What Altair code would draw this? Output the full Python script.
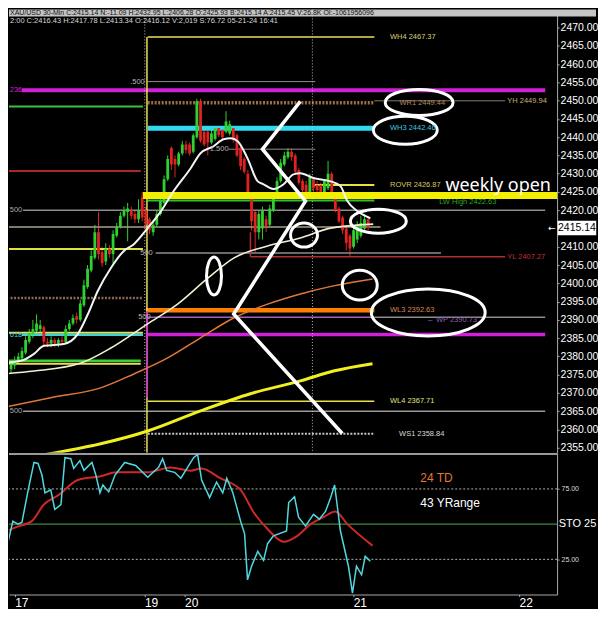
import altair as alt
import pandas as pd

# ---------------------------------------------------------------
# Values (XAU/USD, 30-min bars).
# Bar index 0 = first bar of 17 May; Sunday re-open is bar 34.
# ---------------------------------------------------------------
bar_index = list(range(-5, 96))
bar_open = [
    2378.8, 2381.5, 2376.5, 2377.5, 2378.5, 2379.5, 2381.0, 2384.0, 2386.0, 2387.0,
    2387.5, 2388.0, 2384.0, 2383.5, 2384.5, 2383.5, 2384.5, 2384.0, 2387.5, 2389.0,
    2391.0, 2390.0, 2394.0, 2399.0, 2403.5, 2407.0, 2414.0, 2408.5, 2406.0, 2409.5,
    2408.0, 2413.0, 2415.5, 2418.5, 2419.5, 2420.0, 2419.0, 2417.5, 2423.5, 2420.0,
    2417.5, 2414.0, 2416.0, 2419.0, 2422.0, 2428.5, 2437.0, 2434.0, 2432.5, 2435.5,
    2438.0, 2438.0, 2436.0, 2440.0, 2449.8, 2441.5, 2441.5, 2438.5, 2439.5, 2442.5,
    2442.0, 2441.5, 2441.0, 2442.5, 2440.5, 2437.0, 2434.0, 2430.0, 2423.5, 2419.5,
    2414.0, 2415.0, 2417.5, 2416.0, 2420.0, 2424.0, 2428.0, 2432.5, 2434.5, 2436.0,
    2435.0, 2431.0, 2428.0, 2427.0, 2425.0, 2428.5, 2427.0, 2427.0, 2425.0, 2426.0,
    2430.0, 2424.0, 2420.5, 2418.0, 2415.0, 2413.0, 2410.0, 2412.0, 2413.0, 2415.0,
    2417.5]
bar_high = [
    2382.5, 2382.0, 2379.0, 2380.0, 2381.0, 2382.5, 2385.5, 2387.5, 2390.0, 2391.5,
    2390.0, 2388.5, 2385.0, 2385.5, 2385.0, 2385.0, 2385.5, 2388.5, 2390.0, 2391.5,
    2392.0, 2395.5, 2401.0, 2405.0, 2409.0, 2416.0, 2419.5, 2410.0, 2411.0, 2410.5,
    2414.5, 2416.5, 2419.5, 2421.0, 2422.0, 2421.0, 2420.0, 2423.0, 2425.0, 2421.0,
    2418.0, 2417.0, 2420.0, 2423.0, 2429.5, 2435.0, 2437.5, 2435.0, 2436.0, 2439.0,
    2439.0, 2438.5, 2441.0, 2450.5, 2450.5, 2442.0, 2442.0, 2442.0, 2443.0, 2443.0,
    2442.5, 2447.1, 2444.5, 2443.0, 2441.0, 2437.5, 2434.5, 2431.0, 2424.0, 2420.0,
    2420.0, 2421.0, 2418.5, 2421.5, 2425.0, 2429.0, 2434.0, 2436.0, 2437.0, 2437.0,
    2435.5, 2431.5, 2428.5, 2428.0, 2430.0, 2429.0, 2428.0, 2427.5, 2428.5, 2433.5,
    2430.5, 2424.5, 2421.0, 2418.5, 2415.5, 2413.5, 2415.5, 2417.0, 2418.5, 2419.0,
    2418.5]
bar_low = [
    2377.5, 2375.5, 2375.5, 2376.5, 2378.0, 2379.0, 2380.5, 2383.5, 2385.0, 2386.0,
    2386.5, 2382.5, 2382.5, 2382.5, 2382.5, 2382.5, 2383.0, 2383.5, 2387.0, 2388.5,
    2389.0, 2389.5, 2393.5, 2398.5, 2403.0, 2406.5, 2406.5, 2404.5, 2405.0, 2407.0,
    2405.5, 2412.5, 2415.0, 2418.0, 2411.5, 2417.5, 2416.5, 2416.5, 2417.0, 2414.5,
    2413.5, 2413.0, 2415.5, 2418.5, 2421.5, 2428.0, 2431.0, 2429.0, 2432.0, 2435.0,
    2435.5, 2435.0, 2435.5, 2439.5, 2438.5, 2437.5, 2435.0, 2438.0, 2439.0, 2440.0,
    2439.5, 2441.0, 2440.5, 2438.5, 2434.5, 2431.0, 2430.0, 2424.5, 2414.5, 2408.5,
    2412.0, 2412.0, 2414.0, 2415.5, 2419.5, 2423.5, 2427.5, 2432.0, 2434.0, 2433.5,
    2430.0, 2427.0, 2425.0, 2424.0, 2424.5, 2425.0, 2424.5, 2424.0, 2424.5, 2425.5,
    2423.5, 2419.5, 2416.5, 2413.5, 2409.0, 2407.5, 2409.5, 2411.0, 2412.5, 2414.0,
    2414.5]
bar_close = [
    2381.5, 2376.5, 2378.0, 2379.0, 2380.0, 2381.5, 2384.5, 2386.5, 2387.5, 2389.0,
    2388.5, 2384.0, 2383.5, 2384.5, 2383.5, 2384.5, 2384.0, 2387.5, 2389.0, 2390.5,
    2390.0, 2394.5, 2399.5, 2404.0, 2407.5, 2414.0, 2408.0, 2405.5, 2409.5, 2408.0,
    2413.5, 2415.5, 2418.5, 2420.0, 2420.5, 2418.5, 2417.5, 2420.0, 2418.0, 2416.0,
    2414.5, 2416.0, 2419.0, 2422.5, 2428.5, 2434.0, 2432.5, 2432.5, 2435.5, 2438.0,
    2436.5, 2435.5, 2440.5, 2449.8, 2439.0, 2438.0, 2438.5, 2441.0, 2442.5, 2440.5,
    2440.0, 2444.3, 2443.5, 2439.5, 2435.0, 2432.0, 2430.5, 2425.0, 2417.0, 2414.0,
    2419.0, 2420.0, 2415.5, 2420.5, 2424.0, 2428.0, 2433.0, 2435.0, 2436.0, 2434.5,
    2430.5, 2427.5, 2425.5, 2424.5, 2429.0, 2426.0, 2425.5, 2424.5, 2428.0, 2430.0,
    2424.0, 2420.0, 2417.0, 2414.5, 2411.0, 2409.5, 2414.5, 2416.0, 2416.5, 2417.5,
    2415.14]
last_price = 2415.14

# moving averages, read at points along each curve
ma_fast_bar = [-5.75, -0.27, 3.3, 6.0, 11.5, 15.3, 18.1, 20.8, 24.4, 27.9, 30.7, 34.5,
               38.1, 41.6, 46.3, 49.0, 52.6, 55.3, 57.3, 59.2, 61.9, 64.7, 66.3, 69.0,
               71.8, 74.5, 76.4, 80.0, 84.7, 87.4, 89.3, 92.1, 95.6]
ma_fast_val = [2378.2, 2378.8, 2380.7, 2382.9, 2383.4, 2386.1, 2391.6, 2397.9, 2404.2,
               2408.8, 2410.7, 2415.1, 2419.7, 2425.2, 2431.5, 2435.6, 2437.5, 2439.4,
               2439.7, 2438.9, 2434.2, 2427.9, 2427.1, 2425.8, 2427.1, 2429.8, 2430.1,
               2428.8, 2427.9, 2426.6, 2422.5, 2419.7, 2417.8]
ma_mid_bar = [-5.75, 3.3, 16.2, 24.4, 34.5, 42.7, 51.0, 58.1, 67.4, 76.4, 84.7, 96.4]
ma_mid_val = [2375.2, 2376.0, 2378.2, 2382.3, 2388.9, 2394.3, 2401.4, 2406.9, 2410.2,
              2412.4, 2415.1, 2416.2]
ma_slow_bar = [-5.75, 7.9, 21.6, 30.7, 40.0, 49.0, 58.1, 67.4, 76.4, 85.5, 96.2]
ma_slow_val = [2365.9, 2368.7, 2371.4, 2375.2, 2379.6, 2385.1, 2390.5, 2394.3, 2397.1,
               2399.3, 2401.2]
ma_long_bar = [5.5, 21.6, 34.5, 49.0, 62.7, 76.4, 85.5, 96.2]
ma_long_val = [2353.0, 2356.1, 2359.6, 2365.1, 2369.8, 2373.3, 2376.0, 2378.0]

# stochastic (%K cyan, %D red)
sto_k_bar = [-5.75, -4.9, -4.1, -2.5, -1.1, 0, 1.6, 3.3, 4.4, 5.5, 6.3, 7.9, 9.0, 10.7,
             11.8, 13.4, 14.2, 15.9, 17.0, 19.2, 20.3, 21.4, 22.2, 23.8, 25.5, 28.2,
             31.2, 34.5, 37.5, 38.6, 39.7, 41.9, 43.6, 47.1, 48.2, 49.3, 51.5, 53.4,
             55.1, 56.2, 57.8, 60.0, 61.1, 61.9, 63.0, 64.7, 66.3, 67.4, 69.0, 72.6,
             73.2, 74.8, 75.9, 77.8, 80.0, 81.6, 83.3, 84.7, 85.8, 87.4, 89.6, 90.7,
             91.8, 93.2, 94.2, 95.6]
sto_k_val = [63.9, 77.8, 34.0, 52.1, 50.0, 51.4, 72.9, 93.8, 93.1, 84.7, 72.2, 74.3,
             60.4, 63.9, 97.2, 96.5, 89.6, 95.1, 88.2, 93.8, 84.7, 72.2, 77.8, 72.9,
             84.7, 93.8, 91.7, 83.3, 90.3, 96.5, 88.2, 86.8, 82.6, 97.2, 99.5, 81.3,
             68.8, 79.9, 72.2, 82.6, 72.9, 52.1, 43.1, 10.4, 20.1, 30.6, 24.3, 36.1,
             41.7, 45.1, 65.3, 69.4, 54.9, 48.6, 56.9, 53.5, 59.0, 68.8, 77.8, 45.1,
             20.1, 1.0, 20.1, 14.0, 27.1, 23.6]
sto_d_bar = [-5.75, -1.6, 2.7, 6.0, 10.1, 15.3, 21.6, 26.0, 34.5, 40.8, 46.3, 49.3,
             54.4, 60.0, 63.6, 67.4, 71.8, 75.6, 79.2, 82.7, 86.0, 89.3, 96.2]
sto_d_val = [43.1, 47.9, 52.1, 63.9, 70.8, 81.3, 84.0, 86.8, 86.8, 90.3, 88.0, 89.6,
             82.6, 74.3, 58.3, 46.5, 37.5, 41.7, 50.0, 54.9, 59.0, 50.0, 34.7]

# horizontal levels: key, price, first bar, last bar
level_keys = ["gL1", "rL1", "k2415", "y2409", "br2396", "y618", "c618", "g2379", "y2378",
              "m236", "g2420", "g2365", "fib500a", "fib1500", "fib500b", "YH", "YL",
              "WPg", "WP", "WH4", "WR1", "WH3", "ROVR", "LWH", "WL3", "m2386", "WL4",
              "WS1"]
level_prices = [2448.4, 2430.7, 2415.4, 2409.4, 2396.0, 2386.5, 2385.9, 2378.8, 2378.0,
                2452.8, 2420.0, 2365.0, 2455.2, 2436.7, 2408.3, 2449.94, 2407.27,
                2390.73, 2390.73, 2467.37, 2449.44, 2442.46, 2426.87, 2422.63, 2392.63,
                2386.0, 2367.71, 2358.84]
level_from = [-6, -6, -6, -6, -6, -6, 0, -6, -6, 0, 0.3, 0.3, 34.5, 56.7, 36.7, 96.7,
              62.7, 96.7, 34.5, 34.5, 34.5, 34.5, 79.7, 34.5, 34.0, 34.0, 34.5, 34.5]
level_to = [33.2, 32.6, 98.4, 33.2, 33.2, 33.2, 33.2, 32.6, 32.6, 143.6, 143.6, 143.6,
            80.5, 80.5, 115.0, 132.6, 132.6, 143.6, 96.7, 96.7, 96.7, 96.7, 96.7, 96.7,
            96.7, 143.6, 96.7, 96.7]
weekly_open = 2424.0
weekly_open_from = 33.2

# level captions
cap_text = ["WH4 2467.37", "WR1 2449.44", "YH 2449.94", "WH3 2442.46", "ROVR 2426.87",
            "LW High 2422.63", "YL 2407.27", "WL3 2392.63", "\u2190 WP 2390.73",
            "WL4 2367.71", "WS1 2358.84"]
cap_bar = [101.0, 103.6, 133.2, 101.0, 101.0, 114.5, 133.2, 101.0, 111.0, 101.0, 103.5]
cap_price = [2467.37, 2449.44, 2449.94, 2442.46, 2426.87, 2422.3, 2407.27, 2392.63,
             2390.0, 2367.71, 2358.84]

fib_text = [".500", "1.500", "500", "500"]
fib_bar = [33.7, 56.7, 35.9, 35.3]
fib_price = [2455.2, 2436.7, 2408.3, 2390.73]
edge_text = ["236", "500", "618", "500"]
edge_price = [2452.8, 2420.0, 2385.9, 2365.0]

session_breaks = [33.7, 79.7]

# hand-drawn annotations
zz_bar = [76.4, 66.0, 77.8, 58.1, 87.9]
zz_price = [2449.8, 2436.7, 2422.5, 2391.6, 2358.9]
ell_bar = [109.0, 105.2, 97.8, 77.4, 52.7, 92.7, 111.5]
ell_price = [2449.5, 2441.9, 2417.0, 2413.2, 2402.0, 2399.5, 2392.0]

price_ticks = [2355, 2360, 2365, 2370, 2375, 2380, 2385, 2390, 2395, 2400, 2405, 2410,
               2420, 2425, 2430, 2435, 2440, 2445, 2450, 2455, 2460, 2465, 2470]
sto_ticks = [25, 75]
sto_levels = [75, 25]
sto_mid = 50
day_tick_bars = [-2.0, 33.6, 44.6, 90.9, 136.4]
day_tick_labels = ["17", "19", "20", "21", "22"]

header_1 = ("XAU/USD 30-Min C:2415.14 N:-11.09 H:2432.95 L:2406.28 O:2425.93 "
            "B:2415.14 A:2415.45 V:26.8K OI:-1061956096")
header_2 = "2:00 C:2416.43 H:2417.78 L:2413.34 O:2416.12 V:2,019 S:76.72 05-21-24 16:41"

# ---------------------------------------------------------------
# Styles and layout (whole chart kept within 590 px so the page never scrolls)
# ---------------------------------------------------------------
W, H_TOP, H_BOT = 549, 444, 142
X_DOMAIN = [-3.56, 146.85]
PRICE_DOMAIN = [2353.64, 2474.92]
STO_DOMAIN = [0, 100.7]
GREEN, RED = "#2fd12f", "#e02222"
FONT = "Liberation Sans"
AXIS_FS = 10.5

level_style = {
    "gL1": ("#3cc03c", 2, "solid"), "rL1": ("#a82828", 2, "solid"),
    "k2415": ("#a8a088", 1.5, "solid"), "y2409": ("#e0e040", 2, "solid"),
    "br2396": ("#8a6a58", 2.5, "dot"), "y618": ("#e8e050", 2, "solid"),
    "c618": ("#40d0d8", 2.5, "solid"), "g2379": ("#38d038", 2.5, "solid"),
    "y2378": ("#e8e050", 2, "solid"), "m236": ("#d020d8", 4, "solid"),
    "g2420": ("#8c8c8c", 1.5, "solid"), "g2365": ("#9a9a9a", 1.5, "solid"),
    "fib500a": ("#8c8c8c", 1, "solid"), "fib1500": ("#8c8c8c", 1, "solid"),
    "fib500b": ("#8c8c8c", 1.5, "solid"), "YH": ("#8a7a60", 1, "solid"),
    "YL": ("#b03030", 1.5, "solid"), "WPg": ("#8c8c8c", 1.5, "solid"),
    "WP": ("#a060c0", 1.5, "solid"), "WH4": ("#e8e050", 1.5, "solid"),
    "WR1": ("#9a7048", 3.5, "dot"), "WH3": ("#30d8f0", 5, "solid"),
    "ROVR": ("#e8e040", 2, "solid"), "LWH": ("#30c030", 2, "solid"),
    "WL3": ("#ff8000", 4.5, "solid"), "m2386": ("#d020d8", 3.5, "solid"),
    "WL4": ("#e8e050", 1.5, "solid"), "WS1": ("#c8c8c8", 2, "dot"),
}
cap_color = ["#d8d070", "#b08a60", "#c8b070", "#40c8e0", "#d8c860", "#30a030",
             "#c03030", "#d88a50", "#9060b0", "#e0e080", "#d8d8d8"]
edge_color = ["#d020d8", "#aaaaaa", "#40d0d8", "#aaaaaa"]
ell_rx = [34, 32, 28, 13.5, 7.5, 17.5, 57]
ell_ry = [13, 14, 12, 12, 19, 15, 23.5]

assert len(bar_open) == len(bar_high) == len(bar_low) == len(bar_close) == len(bar_index)

xs = alt.Scale(domain=X_DOMAIN, nice=False, zero=False, padding=0)
ps = alt.Scale(domain=PRICE_DOMAIN, nice=False, zero=False, padding=0)
ss = alt.Scale(domain=STO_DOMAIN, nice=False, zero=False, padding=0)

price_axis = alt.Axis(orient="right", values=price_ticks, format=".2f", title=None,
                      labelColor="#ffffff", labelFontSize=AXIS_FS, labelFont=FONT,
                      tickColor="#aaaaaa", tickSize=2, domainColor="#aaaaaa",
                      labelPadding=1, grid=False, labelOverlap=False, labelFlush=False)
day_axis = alt.Axis(values=day_tick_bars, title=None, grid=False, orient="bottom",
                    labelExpr="{}[indexof({}, datum.value)]".format(
                        "[" + ",".join("'%s'" % s for s in day_tick_labels) + "]",
                        "[" + ",".join(str(b) for b in day_tick_bars) + "]"),
                    labelColor="#ffffff", labelFontSize=12, labelFont=FONT,
                    labelAlign="left", labelPadding=1, labelBaseline="top",
                    labelOverlap=False, labelFlush=False,
                    domainColor="#aaaaaa", tickColor="#aaaaaa", tickSize=2)
sto_axis = alt.Axis(orient="right", values=sto_ticks, format=".2f", title=None,
                    labelColor="#dddddd", labelFontSize=7, labelFont=FONT,
                    tickColor="#aaaaaa", tickSize=2, domainColor="#aaaaaa",
                    labelPadding=2, grid=False)

# every layer of a panel carries the same axis definition so that they merge
TOP = {"x_axis": None, "y_axis": price_axis, "ys": ps}
BOT = {"x_axis": day_axis, "y_axis": sto_axis, "ys": ss}


def X(f, panel):
    return alt.X(f, type="quantitative", scale=xs, axis=panel["x_axis"])


def Y(f, panel):
    return alt.Y(f, type="quantitative", scale=panel["ys"], axis=panel["y_axis"])


# ---------------- data frames / upper panel ----------------
candles = pd.DataFrame({"bar": bar_index, "open": bar_open, "high": bar_high,
                        "low": bar_low, "close": bar_close})
candles["dir"] = ["up" if c >= o else "down" for o, c in zip(bar_open, bar_close)]
candle_color = alt.Color("dir:N", scale=alt.Scale(domain=["up", "down"], range=[GREEN, RED]),
                         legend=None)

lv = pd.DataFrame({"key": level_keys, "price": level_prices, "x1": level_from, "x2": level_to})
lv["color"] = [level_style[k][0] for k in level_keys]
lv["w"] = [level_style[k][1] for k in level_keys]
lv["dash"] = [level_style[k][2] for k in level_keys]


def level_layer(df, **kw):
    return alt.Chart(df).mark_rule(clip=True, **kw).encode(
        x=X("x1", TOP), x2=alt.X2("x2"), y=Y("price", TOP),
        color=alt.Color("color:N", scale=None),
        strokeWidth=alt.StrokeWidth("w:Q", scale=None))


levels_solid = level_layer(lv[lv.dash == "solid"])
levels_dot = level_layer(lv[lv.dash == "dot"], strokeDash=[2, 1.5])

wo = pd.DataFrame({"price": [weekly_open], "x1": [weekly_open_from], "x2": [X_DOMAIN[1]]})
weekly_line = alt.Chart(wo).mark_rule(color="#f2f000", strokeWidth=7, clip=True).encode(
    x=X("x1", TOP), x2=alt.X2("x2"), y=Y("price", TOP))

sessions = alt.Chart(pd.DataFrame({"bar": session_breaks})).mark_rule(
    color="#bbbbbb", strokeDash=[1, 2], strokeWidth=1).encode(x=X("bar", TOP))

vert = pd.DataFrame({"bar": [34.3, 34.3, 62.7],
                     "p1": [2467.4, 2392.4, 2414.0],
                     "p2": [PRICE_DOMAIN[0], 2368.7, 2407.3],
                     "color": ["#e8e050", "#d020d8", "#b03030"]})
verticals = alt.Chart(vert).mark_rule(strokeWidth=1.5, clip=True).encode(
    x=X("bar", TOP), y=Y("p1", TOP), y2=alt.Y2("p2"), color=alt.Color("color:N", scale=None))

wicks = alt.Chart(candles).mark_rule(clip=True, strokeWidth=1).encode(
    x=X("bar", TOP), y=Y("low", TOP), y2=alt.Y2("high"), color=candle_color)
bodies = alt.Chart(candles).mark_bar(clip=True, size=2.8).encode(
    x=X("bar", TOP), y=Y("open", TOP), y2=alt.Y2("close"), color=candle_color)


def ma_layer(b, v, color, width):
    return alt.Chart(pd.DataFrame({"bar": b, "v": v})).mark_line(
        clip=True, color=color, strokeWidth=width, interpolate="monotone").encode(
        x=X("bar", TOP), y=Y("v", TOP))


ma_long = ma_layer(ma_long_bar, ma_long_val, "#f0f020", 3)
ma_slow = ma_layer(ma_slow_bar, ma_slow_val, "#e07838", 1.5)
ma_mid = ma_layer(ma_mid_bar, ma_mid_val, "#f2f0d2", 1.6)
ma_fast = ma_layer(ma_fast_bar, ma_fast_val, "#f4f4f4", 2)

zz = pd.DataFrame({"bar": zz_bar, "price": zz_price, "seq": list(range(len(zz_bar)))})
zigzag = alt.Chart(zz).mark_line(color="#ffffff", strokeWidth=3.5, clip=True).encode(
    x=X("bar", TOP), y=Y("price", TOP), order="seq:Q")

ell = pd.DataFrame({"bar": ell_bar, "price": ell_price})
ell["path"] = ["M -1 0 A 1 {a:.4f} 0 1 0 1 0 A 1 {a:.4f} 0 1 0 -1 0 Z".format(a=ry / rx)
               for rx, ry in zip(ell_rx, ell_ry)]
ell["sz"] = [4 * rx * rx for rx in ell_rx]
ellipses = alt.Chart(ell).mark_point(filled=False, color="#ffffff", strokeWidth=3,
                                     opacity=1).encode(
    x=X("bar", TOP), y=Y("price", TOP), shape=alt.Shape("path:N", scale=None),
    size=alt.Size("sz:Q", scale=None))

caps = pd.DataFrame({"t": cap_text, "bar": cap_bar, "price": cap_price, "c": cap_color})
cap_layer = alt.Chart(caps).mark_text(align="left", baseline="middle", fontSize=7.5,
                                      font=FONT + ", DejaVu Sans").encode(
    x=X("bar", TOP), y=Y("price", TOP), text="t:N", color=alt.Color("c:N", scale=None))

fibs = pd.DataFrame({"t": fib_text, "bar": fib_bar, "price": fib_price})
fib_layer = alt.Chart(fibs).mark_text(align="right", baseline="middle", fontSize=7.5,
                                      font=FONT, color="#b8b8b8").encode(
    x=X("bar", TOP), y=Y("price", TOP), text="t:N")

edges = pd.DataFrame({"t": edge_text, "bar": [X_DOMAIN[0] + 0.2] * len(edge_text),
                      "price": edge_price, "c": edge_color})
edge_layer = alt.Chart(edges).mark_text(align="left", baseline="middle", fontSize=7.5,
                                        font=FONT).encode(
    x=X("bar", TOP), y=Y("price", TOP), text="t:N", color=alt.Color("c:N", scale=None))

wk = pd.DataFrame({"t": ["weekly open"], "bar": [116.2], "price": [2425.3]})
weekly_text = alt.Chart(wk).mark_text(align="left", baseline="alphabetic", fontSize=18,
                                      font="Noto Sans", color="#ffffff").encode(
    x=X("bar", TOP), y=Y("price", TOP), text="t:N")

lp = pd.DataFrame({"x1": [147.0], "x2": [157.6], "p1": [last_price + 2.0],
                   "p2": [last_price - 2.0], "xm": [152.3], "price": [last_price],
                   "t": ["%.2f" % last_price], "xa": [145.4], "arrow": ["\u2190"]})
lp_box = alt.Chart(lp).mark_rect(color="#ffffff").encode(
    x=X("x1", TOP), x2=alt.X2("x2"), y=Y("p1", TOP), y2=alt.Y2("p2"))
lp_text = alt.Chart(lp).mark_text(fontSize=AXIS_FS, font=FONT, color="#000000",
                                  baseline="middle").encode(
    x=X("xm", TOP), y=Y("price", TOP), text="t:N")
lp_arrow = alt.Chart(lp).mark_text(fontSize=9, font="DejaVu Sans", color="#ffffff",
                                   baseline="middle").encode(
    x=X("xa", TOP), y=Y("price", TOP), text="arrow:N")

hdr = pd.DataFrame({"a": [header_1], "b": [header_2]})
hdr_bar = alt.Chart(hdr).mark_rect(color="#c4c4c4").encode(
    x=alt.value(0), x2=alt.value(588), y=alt.value(0), y2=alt.value(7))
hdr_1 = alt.Chart(hdr).mark_text(align="left", baseline="middle", fontSize=7,
                                 font=FONT, color="#101010").encode(
    x=alt.value(1), y=alt.value(3.8), text="a:N")
hdr_2 = alt.Chart(hdr).mark_text(align="left", baseline="middle", fontSize=7.5,
                                 font=FONT, color="#d8d8d8").encode(
    x=alt.value(1), y=alt.value(12), text="b:N")

top = alt.layer(
    wicks, levels_solid, levels_dot, sessions, verticals, bodies, weekly_line,
    ma_long, ma_slow, ma_mid, ma_fast, zigzag, ellipses,
    cap_layer, fib_layer, edge_layer, weekly_text,
    lp_box, lp_text, lp_arrow, hdr_bar, hdr_1, hdr_2,
).properties(width=W, height=H_TOP)

# ---------------- stochastic panel ----------------
sto_dotted = alt.Chart(pd.DataFrame({"v": sto_levels})).mark_rule(
    color="#b0b0b0", strokeDash=[2, 2], strokeWidth=1).encode(y=Y("v", BOT))
sto_green = alt.Chart(pd.DataFrame({"v": [sto_mid]})).mark_rule(
    color="#3c8a3c", strokeWidth=1.2).encode(y=Y("v", BOT))
sep = alt.Chart(pd.DataFrame({"v": [99.9]})).mark_rule(
    color="#9a9a9a", strokeWidth=2).encode(y=Y("v", BOT))
k_line = alt.Chart(pd.DataFrame({"bar": sto_k_bar, "v": sto_k_val})).mark_line(
    color="#50d8e0", strokeWidth=1.5, clip=True).encode(x=X("bar", BOT), y=Y("v", BOT))
d_line = alt.Chart(pd.DataFrame({"bar": sto_d_bar, "v": sto_d_val})).mark_line(
    color="#d02828", strokeWidth=2, clip=True, interpolate="monotone").encode(
    x=X("bar", BOT), y=Y("v", BOT))

sto_txt = pd.DataFrame({"t": ["24 TD", "43 YRange", "STO 25"],
                        "bar": [109.3, 109.3, 147.3], "v": [82.6, 65.3, 50.0],
                        "c": ["#e07830", "#ffffff", "#ffffff"],
                        "fs": [12, 12, 11]})
sto_text = alt.Chart(sto_txt).mark_text(align="left", baseline="middle", font=FONT).encode(
    x=X("bar", BOT), y=Y("v", BOT), text="t:N", color=alt.Color("c:N", scale=None),
    size=alt.Size("fs:Q", scale=None))

bottom = alt.layer(sto_dotted, sto_green, sep, d_line, k_line, sto_text).properties(
    width=W, height=H_BOT)

chart = alt.vconcat(top, bottom, spacing=0, bounds="flush", padding=0).configure(
    background="#000000").configure_view(strokeWidth=0)

chart.save("out.html", embed_options={"renderer": "svg", "actions": False})
